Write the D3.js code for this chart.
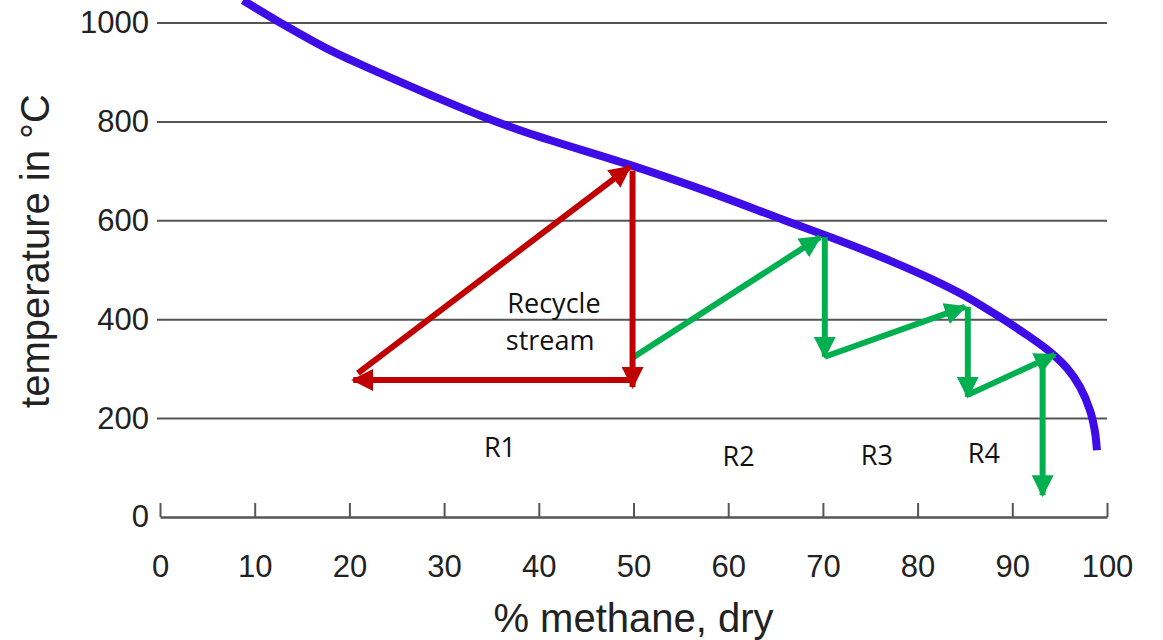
<!DOCTYPE html>
<html><head><meta charset="utf-8">
<script src="https://cdn.jsdelivr.net/npm/d3@7"></script>
<style>
html,body{margin:0;padding:0;background:#fff;}
svg{display:block;}
</style></head>
<body>
<svg id="chart" width="1163" height="640"></svg>
<script>
// ---- data ----
const xTicks = [0,10,20,30,40,50,60,70,80,90,100];
const yTicks = [0,200,400,600,800,1000];
// equilibrium curve: [% methane, temperature °C]
const curveX = [8.76, 12.67, 17.95, 23.2, 28.5, 33.8, 39.1, 49.6, 58, 65.8, 72, 77, 81.6, 85.2, 88.7, 91.55, 93.98, 95.78, 97.15, 98.2, 98.7, 98.94];
const curveT = [1045, 1000, 944, 898, 854, 812, 775, 712, 657, 601, 557, 519, 480, 445, 404, 368, 334, 301, 263, 216, 176, 135];
// recycle arrows (red): [x1,T1,x2,T2]
const redArrows = [
  [20.9, 291, 49.6, 708],
  [49.9, 700, 49.9, 263],
  [49.9, 277, 20.4, 277]
];
// reactor arrows (green)
const greenArrows = [
  [49.9, 322, 69.7, 566],
  [70.2, 566, 70.2, 324],
  [70.2, 324, 85.0, 425],
  [85.3, 425, 85.3, 243],
  [85.3, 247, 94.5, 328],
  [93.2, 328, 93.2, 44]
];
const annoText = ["Recycle", "stream", "R1", "R2", "R3", "R4"];
const annoX = [41.6, 41.2, 35.9, 61.1, 75.7, 87.0];
const annoT = [412, 337, 121, 103, 105, 109];
const xTitle = "% methane, dry";
const yTitle = "temperature in °C";

// ---- drawing ----
const svg = d3.select("#chart");
const x = d3.scaleLinear().domain([0,100]).range([160,1107]);
const y = d3.scaleLinear().domain([0,1000]).range([517,22.5]);
const gridCol = "#555";
const txtCol = "#222";

const defs = svg.append("defs");
function marker(id, col){
  defs.append("marker").attr("id", id)
    .attr("markerUnits","userSpaceOnUse")
    .attr("viewBox","0 -11 22 22")
    .attr("refX", 20).attr("refY", 0)
    .attr("markerWidth", 22).attr("markerHeight", 22)
    .attr("orient","auto")
    .append("path").attr("d","M0,-11L22,0L0,11Z").attr("fill", col);
}
marker("mRed", "#C00000");
marker("mGreen", "#00B050");

// y grid + labels
const gy = svg.append("g").attr("transform","translate(157,0)")
  .call(d3.axisLeft(y).tickValues(yTicks).tickSize(-950).tickPadding(8).tickFormat(d3.format("d")));
gy.select(".domain").remove();
gy.selectAll(".tick line").attr("stroke", gridCol).attr("stroke-width", 2)
  .filter(d => d === 0).remove();
gy.selectAll(".tick text").attr("fill", txtCol)
  .style("font-family","'Liberation Sans', Arial, sans-serif").style("font-size","31px");

// x axis
const gx = svg.append("g").attr("transform","translate(0,517)")
  .call(d3.axisBottom(x).tickValues(xTicks).tickSize(-14).tickSizeOuter(0).tickFormat(d3.format("d")));
gx.select(".domain").attr("stroke", gridCol).attr("stroke-width", 2.5);
gx.selectAll(".tick line").attr("stroke", gridCol).attr("stroke-width", 2);
gx.selectAll(".tick text").attr("fill", txtCol).attr("y", 60).attr("dy", 0)
  .style("font-family","'Liberation Sans', Arial, sans-serif").style("font-size","31px");

// axis titles
svg.append("text").attr("x", x(50)).attr("y", 632).attr("text-anchor","middle")
  .attr("fill", txtCol).style("font-family","'Liberation Sans', Arial, sans-serif")
  .style("font-size","40px").text(xTitle);
svg.append("text").attr("transform","translate(49,251) rotate(-90)").attr("text-anchor","middle")
  .attr("fill", txtCol).style("font-family","'Liberation Sans', Arial, sans-serif")
  .style("font-size","40px").text(yTitle);

// curve
const curveData = curveX.map((d,i) => [d, curveT[i]]);
svg.append("path").datum(curveData)
  .attr("d", d3.line().x(d => x(d[0])).y(d => y(d[1])).curve(d3.curveCatmullRom.alpha(0.5)))
  .attr("fill","none").attr("stroke","#3D0CE6").attr("stroke-width", 8).attr("stroke-linecap","butt");

// arrows
function drawArrows(data, col, mid){
  svg.append("g").selectAll("line").data(data).join("line")
    .attr("x1", d => x(d[0])).attr("y1", d => y(d[1]))
    .attr("x2", d => x(d[2])).attr("y2", d => y(d[3]))
    .attr("stroke", col).attr("stroke-width", 6)
    .attr("marker-end", `url(#${mid})`);
}
drawArrows(greenArrows, "#00B050", "mGreen");
drawArrows(redArrows, "#C00000", "mRed");

// annotations
svg.append("g").selectAll("text").data(annoText).join("text")
  .attr("x", (d,i) => x(annoX[i])).attr("y", (d,i) => y(annoT[i]))
  .attr("text-anchor","middle").attr("fill","#111")
  .style("font-family","'Open Sans', sans-serif").style("font-size","27px")
  .text(d => d);
</script>
</body></html>
